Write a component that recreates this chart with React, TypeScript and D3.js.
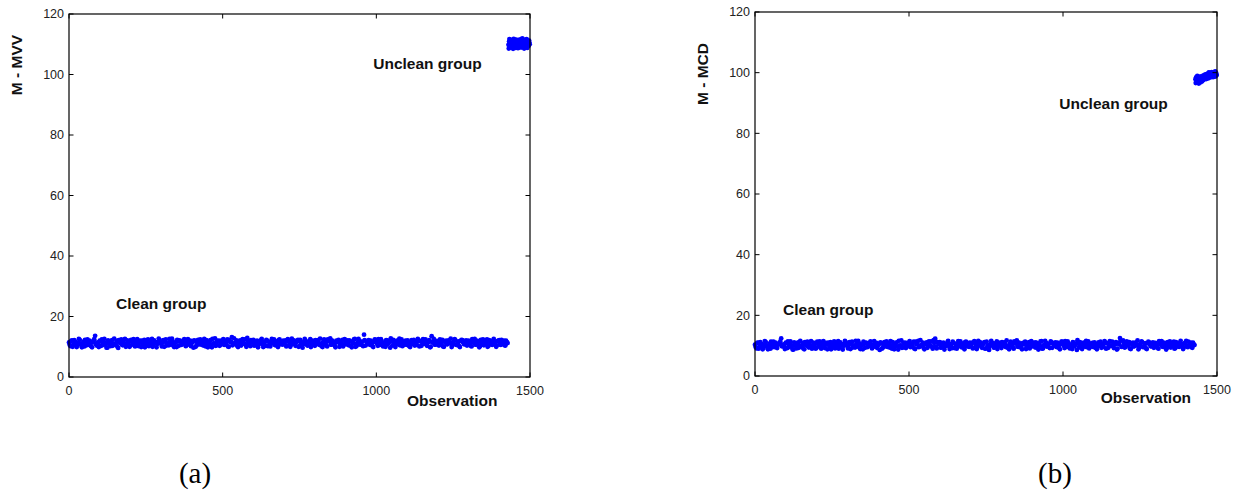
import * as d3 from 'd3';

// observation index of each stored value: two interleaved samplings per group
const cleanStep = 5;
const cleanOffsets = [0, 2];
const uncleanStart = 1430;
const uncleanStep = 2;
const uncleanOffsets = [0, 1];

const xTicks = [0, 500, 1000, 1500];
const yTicks = [0, 20, 40, 60, 80, 100, 120];

// (a) M - MVV distances
const mvvCleanA = [
  11.4, 10.2, 12.1, 10.8, 11.7, 9.9, 11.2, 12.3, 10.5, 11.0, 10.1, 11.8, 12.4, 10.6, 11.3, 9.8, 11.9, 13.6, 10.4, 11.1,
  12.0, 10.3, 11.5, 12.6, 10.9, 9.7, 11.6, 10.2, 12.2, 11.0, 10.7, 11.9, 9.6, 11.3, 12.4, 10.5, 11.1, 10.0, 12.1, 11.7,
  10.4, 11.8, 12.5, 10.1, 11.2, 10.8, 12.0, 9.9, 11.5, 12.3, 10.6, 11.0, 10.2, 11.9, 12.6, 10.7, 11.3, 9.8, 11.6, 12.2,
  10.9, 11.4, 10.0, 12.4, 11.1, 10.5, 11.8, 12.7, 10.3, 11.2, 9.9, 11.7, 12.1, 10.6, 11.0, 12.5, 10.2, 11.5, 10.8, 12.0,
  11.3, 9.7, 11.9, 10.4, 12.3, 11.0, 10.7, 11.6, 12.6, 10.1, 11.4, 10.9, 12.2, 9.8, 11.1, 12.8, 10.5, 11.7, 10.3, 12.0,
  11.2, 10.6, 11.8, 12.4, 10.0, 11.5, 13.2, 10.8, 11.3, 12.1, 9.9, 11.7, 10.4, 12.5, 11.0, 10.7, 12.9, 11.4, 10.2, 11.9,
  12.3, 10.5, 11.1, 9.8, 11.6, 12.2, 10.9, 11.4, 10.3, 12.0, 11.7, 10.1, 12.6, 11.2, 10.6, 11.8, 9.9, 12.4, 11.0, 10.7,
  11.5, 12.1, 10.4, 11.9, 10.0, 12.7, 11.3, 10.8, 11.6, 12.3, 10.2, 11.1, 9.7, 11.8, 12.0, 10.5, 11.4, 12.5, 10.9, 11.2,
  10.3, 11.7, 12.2, 10.6, 11.0, 9.9, 12.4, 11.5, 10.1, 11.9, 12.8, 10.7, 11.3, 10.4, 12.0, 11.6, 10.0, 11.2, 12.3, 10.8,
  11.4, 12.1, 10.5, 11.8, 9.8, 11.1, 12.6, 10.2, 11.5, 12.0, 10.9, 11.7, 14.0, 10.4, 11.3, 12.2, 10.6, 11.0, 9.9, 12.4,
  11.6, 10.3, 11.9, 12.5, 10.7, 11.2, 10.0, 12.1, 11.4, 9.7, 11.8, 12.3, 10.5, 11.1, 10.8, 12.7, 11.5, 10.2, 11.7, 12.0,
  10.6, 11.3, 9.9, 12.2, 11.0, 10.4, 11.6, 12.6, 10.1, 11.9, 10.9, 11.2, 12.4, 10.3, 11.5, 9.8, 13.5, 11.7, 10.7, 11.1,
  11.1, 10.5, 11.8, 12.3, 10.0, 11.4, 10.8, 12.1, 11.2, 9.9, 11.6, 12.5, 10.6, 11.0, 10.2, 11.9, 12.2, 10.9, 11.3, 10.4,
  12.0, 11.5, 10.1, 11.8, 12.6, 10.7, 11.2, 9.8, 12.3, 11.0, 10.5, 11.7, 12.4, 10.3, 11.4, 10.8, 12.1, 11.6, 10.0, 11.9,
  12.2, 10.6, 11.3, 12.0, 10.4, 11.5,
];
const mvvCleanB = [
  10.7, 11.9, 10.0, 12.2, 11.3, 10.4, 12.6, 11.0, 9.8, 11.7, 12.3, 10.5, 11.1, 12.0, 10.2, 11.6, 12.5, 10.8, 11.4, 9.9,
  11.8, 12.4, 10.6, 11.2, 9.7, 12.1, 10.9, 11.5, 10.3, 12.7, 11.0, 10.1, 12.2, 11.6, 10.7, 11.9, 12.6, 10.4, 11.3, 10.0,
  12.3, 11.1, 10.5, 11.7, 12.5, 10.2, 11.4, 12.0, 10.8, 9.8, 11.6, 12.4, 10.6, 11.2, 10.0, 12.1, 11.5, 10.9, 12.7, 11.3,
  10.1, 12.2, 11.7, 10.4, 11.0, 12.6, 10.7, 11.9, 9.9, 11.4, 12.3, 10.3, 11.8, 10.9, 12.0, 11.2, 10.5, 12.5, 11.6, 10.2,
  11.5, 12.1, 10.0, 11.3, 10.8, 12.4, 11.8, 10.4, 11.0, 12.2, 9.8, 11.6, 10.7, 12.6, 11.1, 10.3, 11.9, 12.0, 10.6, 11.4,
  12.5, 10.9, 11.2, 10.1, 12.3, 11.7, 10.5, 12.8, 11.0, 10.3, 11.6, 12.1, 10.8, 11.3, 12.4, 10.0, 11.9, 10.6, 12.2, 11.5,
  10.4, 11.8, 12.0, 10.7, 11.1, 12.6, 9.9, 11.5, 12.3, 10.2, 11.3, 10.9, 11.7, 12.4, 10.5, 11.0, 12.2, 10.8, 11.6, 12.0,
  11.2, 10.1, 12.5, 11.4, 10.6, 11.9, 12.1, 10.3, 11.7, 10.0, 12.3, 11.1, 10.8, 12.6, 11.5, 10.4, 11.8, 9.9, 12.0, 11.3,
  12.2, 10.9, 11.4, 12.7, 10.2, 11.6, 11.0, 10.5, 12.4, 11.8, 10.7, 12.0, 11.2, 9.8, 11.5, 12.3, 10.6, 11.9, 10.1, 12.5,
  10.8, 11.3, 12.1, 10.4, 11.7, 12.4, 10.0, 11.1, 12.6, 10.7, 11.5, 10.2, 12.2, 11.8, 10.9, 11.4, 12.0, 10.3, 11.6, 12.3,
  11.0, 12.5, 10.6, 11.9, 10.1, 11.4, 12.2, 10.8, 11.6, 12.8, 10.4, 11.2, 9.9, 12.0, 11.7, 10.5, 12.4, 11.1, 10.7, 11.8,
  12.1, 10.2, 11.5, 10.9, 12.3, 11.3, 10.6, 12.0, 11.8, 10.3, 12.5, 11.0, 10.8, 11.6, 12.2, 10.0, 11.4, 12.6, 10.7, 11.9,
  10.5, 12.4, 11.2, 10.1, 11.7, 12.0, 10.9, 11.3, 12.7, 10.4, 11.0, 12.2, 10.6, 11.8, 9.9, 12.3, 11.5, 10.8, 12.1, 11.6,
  11.1, 10.3, 12.5, 11.4, 10.7, 12.0, 11.8, 10.2, 11.6, 12.4, 10.9, 11.3, 10.0, 12.2, 11.7, 10.6, 12.6, 11.0, 10.4, 11.9,
  10.8, 12.3, 11.5, 10.5, 12.0, 11.2,
];
const mvvUncleanA = [
  109.8, 110.9, 109.2, 111.3, 110.4, 109.6, 111.0, 110.1, 109.4, 111.5, 110.7, 109.9, 110.3, 111.2, 109.1, 110.8, 110.0, 111.4,
  109.7, 110.5, 111.1, 109.5, 110.6, 111.6, 109.9, 110.2, 111.0, 109.3, 110.7, 110.4, 109.8, 111.2, 110.1, 109.6, 110.5,
];
const mvvUncleanB = [
  108.6, 111.7, 110.2, 108.9, 111.4, 109.3, 110.8, 108.5, 111.8, 109.9, 110.6, 108.8, 111.5, 109.4, 110.9, 108.7, 111.3, 110.0,
  109.1, 111.6, 108.9, 110.4, 111.9, 109.2, 110.7, 108.6, 111.4, 109.8, 110.3, 111.7, 108.8, 110.9, 109.5, 111.2, 110.0,
];

// (b) M - MCD distances
const mcdCleanA = [
  10.3, 9.1, 11.0, 9.7, 10.6, 8.8, 10.2, 11.2, 9.4, 9.9, 9.0, 10.7, 11.3, 9.5, 10.2, 10.4, 10.8, 12.4, 10.0, 9.6,
  11.0, 9.2, 10.4, 11.4, 9.8, 8.7, 10.5, 9.1, 11.1, 9.9, 9.6, 10.8, 8.8, 10.2, 11.3, 9.4, 10.0, 9.0, 11.0, 10.6,
  9.3, 10.7, 11.4, 9.0, 10.1, 9.7, 10.9, 8.8, 10.4, 11.2, 9.5, 9.9, 9.1, 10.8, 11.5, 9.6, 10.2, 8.7, 10.5, 11.1,
  9.8, 10.3, 8.9, 11.3, 10.0, 9.4, 10.7, 11.6, 9.2, 10.1, 8.8, 10.6, 11.0, 9.5, 9.9, 11.4, 9.1, 10.4, 9.7, 10.9,
  10.2, 8.6, 10.8, 9.3, 11.2, 9.9, 9.6, 10.5, 11.5, 9.0, 10.3, 9.8, 11.1, 8.7, 10.0, 11.7, 9.4, 10.6, 9.2, 10.9,
  10.1, 9.5, 10.7, 11.3, 8.9, 10.4, 11.6, 9.7, 10.2, 11.0, 8.8, 10.6, 9.3, 11.4, 9.9, 9.6, 11.8, 12.3, 9.1, 10.8,
  11.2, 9.4, 10.0, 8.7, 10.5, 11.1, 9.8, 10.3, 9.2, 10.9, 10.6, 9.0, 11.5, 10.1, 9.5, 10.7, 8.8, 11.3, 9.9, 9.6,
  10.4, 11.0, 9.3, 10.8, 8.9, 11.6, 10.2, 9.7, 10.5, 11.2, 9.1, 10.0, 8.6, 10.7, 10.9, 9.4, 10.3, 11.4, 9.8, 10.1,
  9.2, 10.6, 11.1, 9.5, 9.9, 8.8, 11.3, 10.4, 9.0, 10.8, 11.7, 9.6, 10.2, 9.3, 10.9, 10.5, 8.9, 10.1, 11.2, 9.7,
  10.3, 11.0, 9.4, 10.7, 8.7, 10.0, 11.5, 9.1, 10.4, 10.9, 9.8, 10.6, 11.4, 9.3, 10.2, 11.1, 9.5, 9.9, 8.8, 11.3,
  10.5, 9.2, 10.8, 11.4, 9.6, 10.1, 8.9, 11.0, 10.3, 8.6, 10.7, 11.2, 9.4, 10.0, 9.7, 11.6, 10.4, 9.1, 10.6, 10.9,
  9.5, 10.2, 8.8, 11.1, 9.9, 9.3, 10.5, 11.5, 9.0, 10.8, 9.8, 10.1, 11.3, 9.2, 10.4, 8.7, 10.9, 12.5, 9.6, 11.7,
  9.4, 10.0, 10.6, 11.2, 8.9, 10.3, 9.7, 11.0, 10.1, 8.8, 10.5, 11.4, 9.5, 9.9, 9.1, 10.8, 11.1, 9.8, 10.2, 9.3,
  10.9, 10.4, 9.0, 10.7, 11.5, 9.6, 10.1, 8.7, 11.2, 9.9, 9.4, 10.6, 11.3, 9.2, 10.3, 9.7, 11.0, 10.5, 8.9, 10.8,
  11.6, 9.5, 10.2, 11.0, 9.3, 10.4,
];
const mcdCleanB = [
  9.6, 10.9, 9.0, 11.2, 10.3, 9.4, 11.5, 10.0, 8.8, 10.7, 11.3, 9.5, 10.1, 11.0, 9.2, 10.6, 11.4, 9.8, 10.4, 8.9,
  10.8, 11.4, 9.6, 10.2, 8.7, 11.1, 9.9, 10.5, 9.3, 11.6, 10.0, 9.1, 11.2, 10.6, 9.7, 10.9, 11.5, 9.4, 10.3, 9.0,
  11.3, 10.1, 9.5, 10.7, 11.5, 9.2, 10.4, 11.0, 9.8, 8.8, 10.6, 11.4, 9.6, 10.2, 9.0, 11.1, 10.5, 9.9, 11.6, 10.3,
  9.1, 11.2, 10.7, 9.4, 10.0, 11.6, 9.7, 10.9, 8.9, 10.4, 11.3, 9.3, 10.8, 9.9, 11.0, 10.2, 9.5, 11.5, 10.6, 9.2,
  10.5, 11.1, 9.0, 10.3, 9.8, 11.4, 10.8, 9.4, 10.0, 11.2, 8.8, 10.6, 9.7, 11.6, 10.1, 9.3, 10.9, 11.0, 9.6, 10.4,
  11.5, 9.9, 10.2, 9.1, 11.3, 10.7, 9.5, 11.8, 10.0, 9.3, 10.6, 11.1, 9.8, 10.3, 11.4, 9.0, 10.9, 9.6, 11.2, 10.5,
  9.4, 10.8, 11.0, 9.7, 10.1, 11.6, 8.9, 10.5, 11.3, 9.2, 10.3, 9.9, 10.7, 11.4, 9.5, 10.0, 11.2, 9.8, 10.6, 11.0,
  10.2, 9.1, 11.5, 10.4, 9.6, 10.9, 11.1, 9.3, 10.7, 9.0, 11.3, 10.1, 9.8, 11.6, 10.5, 9.4, 10.8, 8.9, 11.0, 10.3,
  11.2, 9.9, 10.4, 11.7, 9.2, 10.6, 10.0, 9.5, 11.4, 10.8, 9.7, 11.0, 10.2, 8.8, 10.5, 11.3, 9.6, 10.9, 9.1, 11.5,
  9.8, 10.3, 11.1, 9.4, 10.7, 11.4, 9.0, 10.1, 11.6, 9.7, 10.5, 9.2, 11.2, 10.8, 9.9, 10.4, 11.0, 9.3, 10.6, 11.3,
  10.0, 11.5, 9.6, 10.9, 9.1, 10.4, 11.2, 9.8, 10.6, 11.8, 9.4, 10.2, 8.9, 11.0, 10.7, 9.5, 11.4, 10.1, 9.7, 10.8,
  11.1, 9.2, 10.5, 9.9, 11.3, 10.3, 9.6, 11.0, 10.8, 9.3, 11.5, 10.0, 9.8, 10.6, 11.2, 9.0, 10.4, 11.6, 9.7, 10.9,
  9.5, 11.4, 10.2, 9.1, 10.7, 11.0, 9.9, 10.3, 11.7, 9.4, 10.0, 11.2, 9.6, 10.8, 8.9, 11.3, 10.5, 9.8, 11.1, 10.6,
  10.1, 9.3, 11.5, 10.4, 9.7, 11.0, 10.8, 9.2, 10.6, 11.4, 9.9, 10.3, 9.0, 11.2, 10.7, 9.6, 11.6, 10.0, 9.4, 10.9,
  9.8, 11.3, 10.5, 9.5, 11.0, 10.2,
];
const mcdUncleanA = [
  97.8, 98.4, 97.5, 98.9, 98.1, 97.7, 98.6, 98.0, 97.4, 98.8, 98.3, 97.9, 98.5, 99.1, 98.2, 98.7, 99.4, 98.6,
  99.0, 99.6, 98.9, 99.3, 100.1, 99.5, 99.0, 99.8, 99.2, 98.8, 99.5, 99.9, 99.1, 99.4, 100.4, 99.0, 99.3,
];
const mcdUncleanB = [
  96.6, 97.9, 96.9, 98.5, 97.2, 96.4, 98.0, 97.6, 96.8, 98.3, 97.1, 98.6, 97.5, 98.9, 97.8, 99.2, 98.3, 97.9,
  99.5, 98.7, 98.1, 99.9, 99.0, 98.4, 99.6, 98.6, 100.2, 99.1, 98.5, 99.7, 98.9, 99.4, 98.7, 100.0, 99.2,
];

const tickLen = 4.5;
const tickFont = 'Liberation Sans, Arial, sans-serif';

function Panel({ left, right, top, bottom, clean, unclean, yLabel, yLabelX, yLabelY, cleanAt, uncleanAt, obsX, obsY, caption, captionX }) {
  const x = d3.scaleLinear().domain([0, 1500]).range([left, right]);
  const y = d3.scaleLinear().domain([0, 120]).range([bottom, top]);

  const points = [];
  clean.forEach((arr, k) => arr.forEach((v, i) => points.push([cleanOffsets[k] + i * cleanStep, v])));
  unclean.forEach((arr, k) => arr.forEach((v, i) => points.push([uncleanStart + uncleanOffsets[k] + i * uncleanStep, v])));

  return (
    <g>
      {/* markers */}
      <g fill="#0000ff">
        {points.map((d, i) => (
          <circle key={i} cx={x(d[0])} cy={y(d[1])} r={2.4} />
        ))}
      </g>

      {/* box */}
      <rect x={left} y={top} width={right - left} height={bottom - top} fill="none" stroke="#000" strokeWidth={1.2} />

      {/* ticks, MATLAB style pointing inward on all sides */}
      <g stroke="#000" strokeWidth={1}>
        {yTicks.map((t) => (
          <g key={'y' + t}>
            <line x1={left} x2={left + tickLen} y1={y(t)} y2={y(t)} />
            <line x1={right} x2={right - tickLen} y1={y(t)} y2={y(t)} />
          </g>
        ))}
        {xTicks.map((t) => (
          <g key={'x' + t}>
            <line x1={x(t)} x2={x(t)} y1={bottom} y2={bottom - tickLen} />
            <line x1={x(t)} x2={x(t)} y1={top} y2={top + tickLen} />
          </g>
        ))}
      </g>

      <g fontFamily={tickFont} fontSize={12.5} fill="#222">
        {yTicks.map((t) => (
          <text key={'yl' + t} x={left - 5} y={y(t)} dy="0.35em" textAnchor="end">{t}</text>
        ))}
        {xTicks.map((t) => (
          <text key={'xl' + t} x={x(t)} y={bottom + 18} textAnchor="middle">{t}</text>
        ))}
      </g>

      <g fontFamily={tickFont} fontSize={15.5} fontWeight="bold" fill="#111">
        <text transform={`translate(${yLabelX},${yLabelY}) rotate(-90)`} textAnchor="middle" dy="0.35em">{yLabel}</text>
        <text x={x(obsX)} y={bottom + obsY} textAnchor="middle">Observation</text>
        <text x={x(cleanAt[0])} y={y(cleanAt[1])}>Clean group</text>
        <text x={x(uncleanAt[0])} y={y(uncleanAt[1])}>Unclean group</text>
      </g>

      <text x={captionX} y={483} textAnchor="middle" fontFamily="Liberation Serif, Times New Roman, serif" fontSize={29} fill="#000">
        {caption}
      </text>
    </g>
  );
}

export default function App() {
  return (
    <div>
      <style>{'body{margin:0}'}</style>
      <svg width={1244} height={494} style={{ display: 'block', background: '#fff' }}>
        <Panel
          left={69} right={530} top={14} bottom={377}
          clean={[mvvCleanA, mvvCleanB]} unclean={[mvvUncleanA, mvvUncleanB]}
          yLabel="M - MVV" yLabelX={17} yLabelY={65}
          cleanAt={[153, 22.5]} uncleanAt={[990, 101.8]}
          obsX={1247} obsY={29}
          caption="(a)" captionX={195}
        />
        <Panel
          left={755} right={1217} top={12} bottom={376}
          clean={[mcdCleanA, mcdCleanB]} unclean={[mcdUncleanA, mcdUncleanB]}
          yLabel="M - MCD" yLabelX={703} yLabelY={74}
          cleanAt={[91, 20.1]} uncleanAt={[988, 88.1]}
          obsX={1269} obsY={27}
          caption="(b)" captionX={1055}
        />
      </svg>
    </div>
  );
}
